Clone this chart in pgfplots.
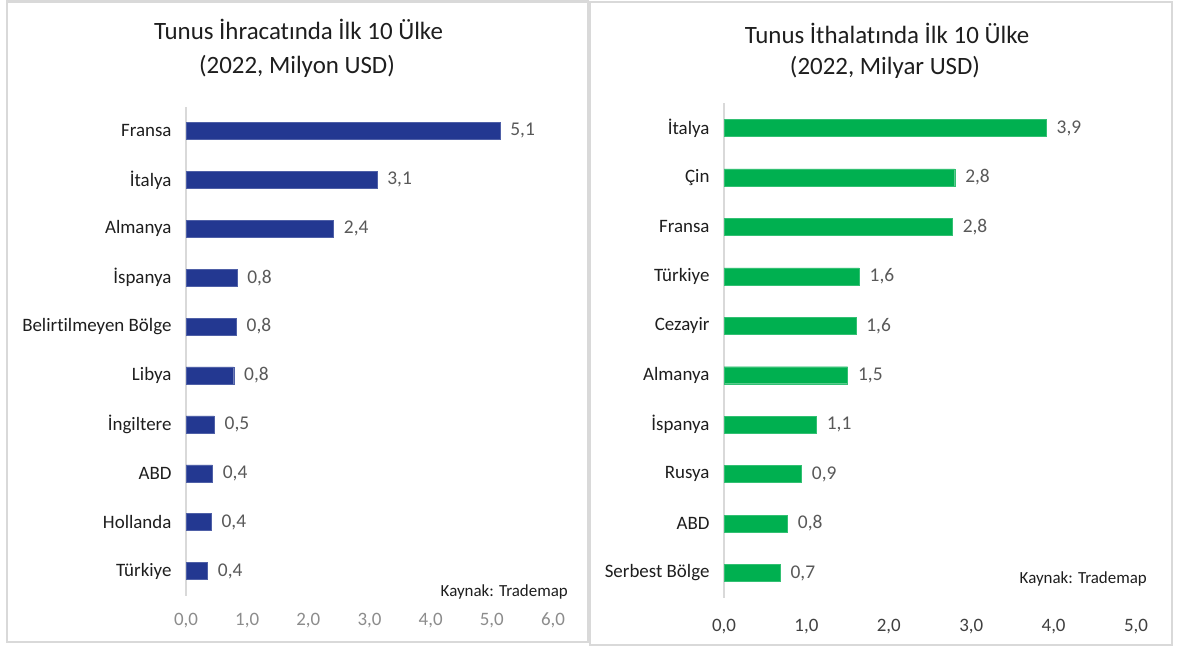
\documentclass[border=0pt]{standalone}
\usepackage{fontspec}
\setmainfont[Ligatures={NoCommon}]{Carlito}
\usepackage{pgfplots}
\pgfplotsset{compat=1.18}
\usepackage{pgfplotstable}

\definecolor{barblue}{HTML}{233891}
\definecolor{bargreen}{HTML}{00B050}
\definecolor{framegray}{HTML}{D9D9D9}
\definecolor{valgray}{HTML}{595959}
\definecolor{txt}{HTML}{1E1E1E}
\definecolor{tickl}{HTML}{8C8C8C}
\definecolor{tickr}{HTML}{404040}

% y: 9 = top category
\pgfplotstableread{
y x lab
9 5.13 5,1
8 3.12 3,1
7 2.41 2,4
6 0.83 0,8
5 0.82 0,8
4 0.78 0,8
3 0.46 0,5
2 0.43 0,4
1 0.41 0,4
0 0.35 0,4
}\exptable

\pgfplotstableread{
y x lab
9 3.91 3,9
8 2.80 2,8
7 2.77 2,8
6 1.64 1,6
5 1.60 1,6
4 1.50 1,5
3 1.12 1,1
2 0.94 0,9
1 0.77 0,8
0 0.68 0,7
}\imptable

\pgfplotsset{
  mybar/.style={
    xbar, bar width=17bp, bar shift=0pt,
    scale only axis, anchor=south west,
    ymin=-0.5, ymax=9.5, ytick={0,...,9},
    xmin=0,
    axis x line*=bottom, axis y line*=left,
    x axis line style={draw=none},
    y axis line style={-, draw=framegray, line width=1.5bp},
    major tick length=0pt,
    tick style={draw=none},
    yticklabel style={font=\fontsize{19}{21}\selectfont, text=txt, anchor=east, xshift=-11bp},
    nodes near coords,
    point meta=explicit symbolic,
    nodes near coords style={font=\fontsize{19.5}{21}\selectfont, text=valgray, anchor=west, xshift=7bp},
  }
}

\begin{document}
\begin{tikzpicture}
\useasboundingbox (0bp,0bp) rectangle (1184bp,-646bp);
\fill[white] (0bp,0bp) rectangle (1184bp,-646bp);

% frames
\draw[framegray, line width=2.2bp] (7bp,-1.5bp) rectangle (588bp,-642bp);
\draw[framegray, line width=2.2bp] (590bp,-2bp) rectangle (1172bp,-645bp);

% titles
\node[anchor=base, font=\fontsize{25}{27}\selectfont, text=txt] at (298.5bp,-39.5bp) {Tunus İhracatında İlk 10 Ülke};
\node[anchor=base, font=\fontsize{25}{27}\selectfont, text=txt] at (297bp,-73bp) {(2022, Milyon USD)};
\node[anchor=base, font=\fontsize{25}{27}\selectfont, text=txt] at (887bp,-43bp) {Tunus İthalatında İlk 10 Ülke};
\node[anchor=base, font=\fontsize{25}{27}\selectfont, text=txt] at (885bp,-74bp) {(2022, Milyar USD)};

% left chart
\begin{axis}[mybar,
  at={(186bp,-595.5bp)},
  width=367bp, height=489bp,
  xmax=6, xtick={0,1,2,3,4,5,6},
  xticklabel style={font=\fontsize{19}{21}\selectfont, text=tickl, anchor=center, yshift=-25bp,
    /pgf/number format/.cd, use comma, fixed, fixed zerofill, precision=1, assume math mode=true},
  yticklabels={Türkiye,Hollanda,ABD,İngiltere,Libya,Belirtilmeyen Bölge,İspanya,Almanya,İtalya,Fransa},
]
\addplot[fill=barblue, draw=barblue!80!white] table[x=x, y=y, meta=lab] {\exptable};
\end{axis}

% right chart
\begin{axis}[mybar,
  at={(724bp,-597.7bp)},
  width=412bp, height=494.4bp,
  xmax=5, xtick={0,1,2,3,4,5},
  xticklabel style={font=\fontsize{19}{21}\selectfont, text=tickr, anchor=center, yshift=-29bp,
    /pgf/number format/.cd, use comma, fixed, fixed zerofill, precision=1, assume math mode=true},
  yticklabels={Serbest Bölge,ABD,Rusya,İspanya,Almanya,Cezayir,Türkiye,Fransa,Çin,İtalya},
]
\addplot[fill=bargreen, draw=bargreen!80!white] table[x=x, y=y, meta=lab] {\imptable};
\end{axis}

% source notes
\node[anchor=base east, inner sep=0pt, font=\fontsize{17}{19}\selectfont, text=txt] at (568bp,-596bp) {Kaynak: Trademap};
\node[anchor=base east, inner sep=0pt, font=\fontsize{17}{19}\selectfont, text=txt] at (1147bp,-583bp) {Kaynak: Trademap};
\end{tikzpicture}
\end{document}
